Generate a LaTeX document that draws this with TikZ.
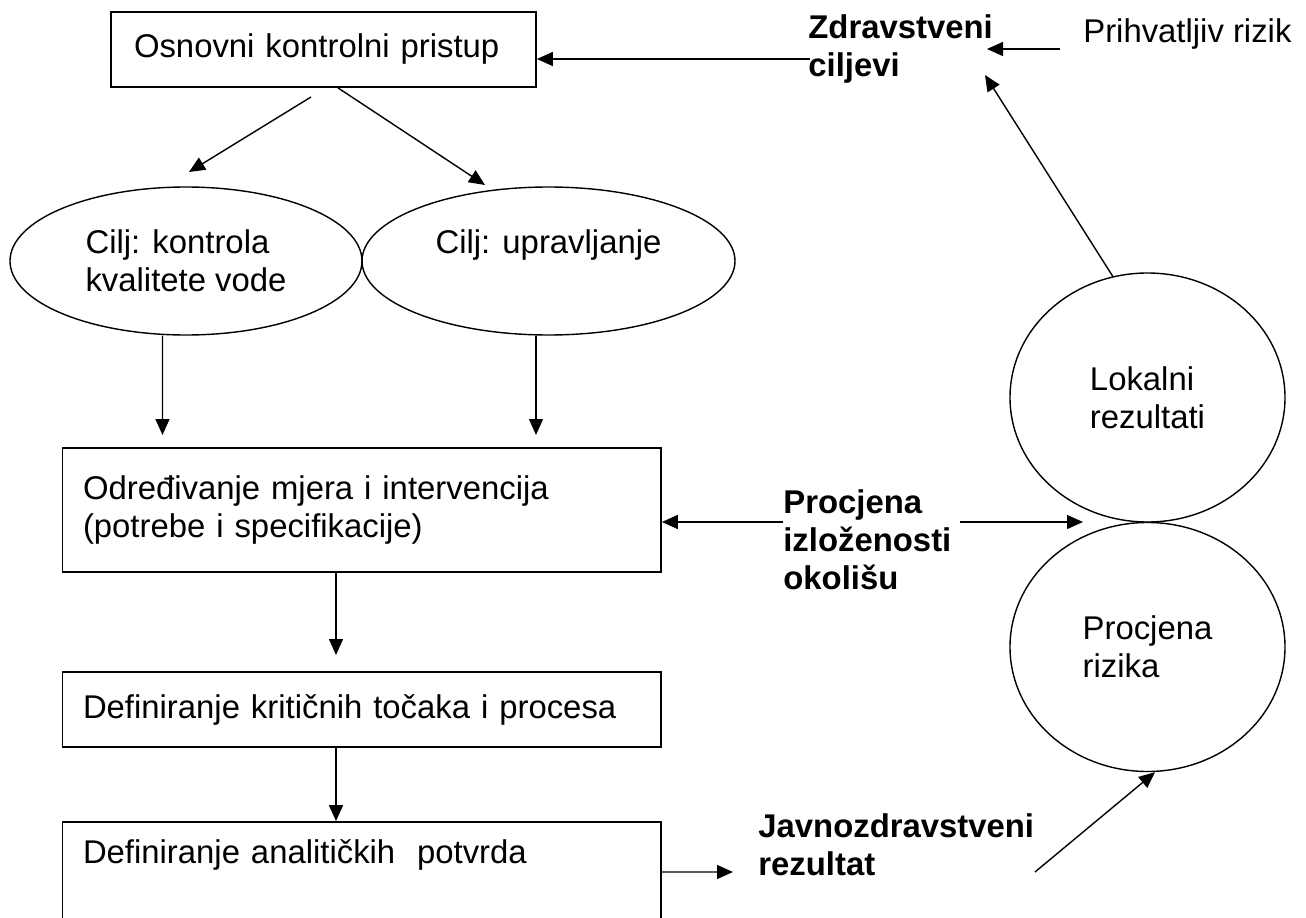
\documentclass[tikz,border=0pt]{standalone}
\usepackage{fontspec}
\setmainfont{Liberation Sans}
\usetikzlibrary{arrows.meta,shapes.geometric}

\begin{document}
\begin{tikzpicture}[font=\fontsize{18.7}{21.6}\selectfont,
    stage/.style ={rectangle, draw, line width=1pt, align=left, inner ysep=0pt},
    goal/.style ={ellipse, draw, line width=0.8pt, align=left, inner sep=0pt, minimum height=2.96cm},
    outcome/.style ={ellipse, draw, line width=0.8pt, align=left, inner sep=0pt, minimum width=5.5cm, minimum height=4.98cm},
    note/.style ={anchor=north west, align=left, inner sep=0pt, font=\fontsize{18.7}{21.6}\selectfont\bfseries},
    flow/.style ={-{Triangle[length=0.32cm, width=0.28cm]}, line width=0.8pt}]
   \useasboundingbox (0,0) rectangle (26.12,-18.36);
   \node[stage, text width=7.58cm, inner xsep=0.46cm, minimum height=1.5cm] (pristup) at (6.47,-0.99) {Osnovni kontrolni pristup};
   \node[goal, minimum width=7.04cm] (kontrola) at (3.72,-5.22) {Cilj: kontrola\\kvalitete vode};
   \node[goal, minimum width=7.46cm] (upravljanje) at (10.97,-5.22) {Cilj: upravljanje\\\mbox{}};
   \node[stage, text width=11.15cm, inner xsep=0.41cm, minimum height=2.48cm] (mjere) at (7.235,-10.2) {Određivanje mjera i intervencija\\(potrebe i specifikacije)};
   \node[stage, text width=11.15cm, inner xsep=0.41cm, minimum height=1.5cm] (tocke) at (7.235,-14.19) {Definiranje kritičnih točaka i procesa};
   \node[stage, text width=11.15cm, inner xsep=0.41cm, minimum height=2.16cm] (potvrde) at (7.235,-17.52) {Definiranje analitičkih\ \ potvrda\\\strut};
   \node[note] (zdravstveni) at (16.16,-0.28) {Zdravstveni\\ciljevi};
   \node[anchor=north west, inner sep=0pt] (prihvatljiv) at (21.66,-0.36) {Prihvatljiv rizik};
   \node[note] (izlozenost) at (15.66,-9.78) {Procjena\\izloženosti\\okolišu};
   \node[note] (javno) at (15.16,-16.26) {Javnozdravstveni\\rezultat};
   \node[outcome] (lokalni) at (22.95,-7.95) {Lokalni\\rezultati};
   \node[outcome] (rizik) at (22.95,-12.94) {Procjena\\rizika};
   \coordinate (c1) at (6.22,-1.94);
   \coordinate (c2) at (3.78,-3.44);
   \coordinate (c3) at (9.70,-3.70);
   \coordinate (c4) at (3.25,-8.70);
   \coordinate (c5) at (10.72,-8.70);
   \coordinate (c6) at (6.72,-13.10);
   \coordinate (c7) at (14.66,-17.44);
   \coordinate (c8) at (16.20,-1.18);
   \coordinate (c9) at (21.20,-0.98);
   \coordinate (c10) at (19.74,-0.98);
   \coordinate (c11) at (19.70,-1.50);
   \coordinate (c12) at (15.66,-10.44);
   \coordinate (c13) at (19.20,-10.44);
   \coordinate (c14) at (21.66,-10.44);
   \coordinate (c15) at (20.70,-17.44);
   \draw[flow] (c1) to (c2);
   \draw[flow] ([xshift=0.29cm]pristup.south) to (c3);
   \draw[flow] ([xshift=-0.47cm]kontrola.south) to (c4);
   \draw[flow] ([xshift=-0.25cm]upravljanje.south) to (c5);
   \draw[flow] ([xshift=-0.515cm]mjere.south) to (c6);
   \draw[flow] ([xshift=-0.515cm]tocke.south) to ([xshift=-0.515cm]potvrde.north);
   \draw[flow] ([yshift=0.08cm]potvrde.east) to (c7);
   \draw[flow] (c8) to (c8 -| pristup.east);
   \draw[flow] (c9) to (c10);
   \draw[flow] (lokalni.106) to (c11);
   \draw[flow] (c12) to (c12 -| mjere.east);
   \draw[flow] (c13) to (c14);
   \draw[flow] (c15) to ([xshift=0.15cm]rizik.south);
\end{tikzpicture}
\end{document}
